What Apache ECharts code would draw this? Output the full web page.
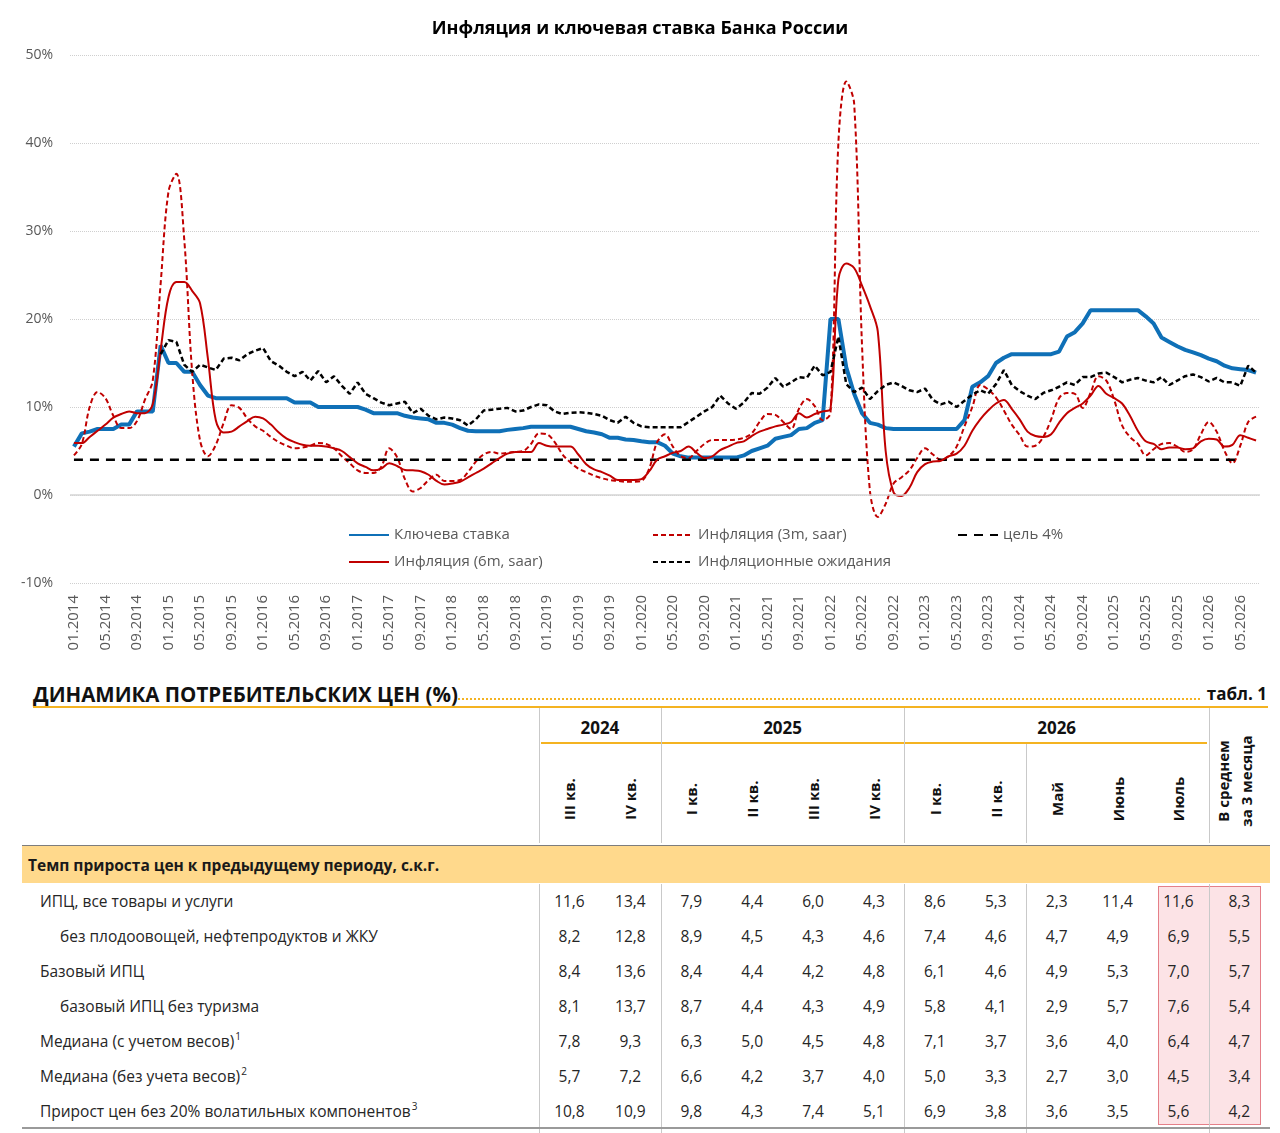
<!DOCTYPE html>
<html lang="ru">
<head>
<meta charset="utf-8">
<title>Инфляция и ключевая ставка Банка России</title>
<script src="https://cdn.jsdelivr.net/npm/echarts@6.0.0/dist/echarts.min.js"></script>
<style>
html, body { margin: 0; padding: 0; background: #fff; }
body { width: 1280px; height: 1133px; position: relative; overflow: hidden; font-family: 'Open Sans', 'Noto Sans', sans-serif; }
#table { position: absolute; left: 0; top: 0; width: 1280px; height: 1133px; }
#chart { position: absolute; left: 0; top: 0; width: 1280px; height: 665px; }
.abs { position: absolute; white-space: nowrap; }
</style>
</head>
<body>
<div id="table"></div>
<div id="chart"></div>
<script>
// --- chart data, monthly from 01.2014 ---
var keyRate = [
  5.5, 7.0, 7.2, 7.5, 7.5, 7.5, 8.0, 8.0, 9.5, 9.5,
  9.5, 17, 15, 15, 14, 14, 12.5, 11.3, 11, 11,
  11, 11, 11, 11, 11, 11, 11, 11, 10.5, 10.5,
  10.5, 10, 10, 10, 10, 10, 10, 9.7, 9.3, 9.3,
  9.3, 9.3, 9.0, 8.8, 8.7, 8.6, 8.2, 8.2, 8.0, 7.6,
  7.3, 7.25, 7.25, 7.25, 7.25, 7.4, 7.5, 7.6, 7.75, 7.75,
  7.75, 7.75, 7.75, 7.75, 7.5, 7.25, 7.1, 6.9, 6.5, 6.5,
  6.3, 6.25, 6.1, 6.0, 6.0, 5.6, 4.7, 4.4, 4.25, 4.25,
  4.25, 4.25, 4.25, 4.25, 4.25, 4.5, 5.0, 5.3, 5.6, 6.4,
  6.6, 6.8, 7.5, 7.6, 8.2, 8.5, 20, 20, 14.5, 11.5,
  9.3, 8.2, 8.0, 7.6, 7.5, 7.5, 7.5, 7.5, 7.5, 7.5,
  7.5, 7.5, 7.5, 8.5, 12.3, 12.8, 13.5, 15, 15.6, 16,
  16, 16, 16, 16, 16, 16.3, 18, 18.5, 19.5, 21,
  21, 21, 21, 21, 21, 21, 20.3, 19.5, 17.9, 17.4,
  16.9, 16.5, 16.2, 15.9, 15.5, 15.2, 14.7, 14.4, 14.3, 14.2,
  13.9
];
var infl3m = [
  4.5, 5.8, 10.0, 11.7, 11.0, 9.0, 7.6, 7.6, 8.4, 10.8,
  13.0, 24, 34.5, 36.5, 29, 14, 6.2, 4.4, 5.7, 8.2,
  10.2, 9.9, 8.7, 7.8, 7.3, 6.6, 6.0, 5.6, 5.3, 5.4,
  5.6, 5.9, 5.8, 5.3, 4.4, 3.6, 2.8, 2.5, 2.5, 3.2,
  5.3, 4.3, 1.8, 0.4, 0.8, 1.7, 2.3, 1.6, 1.6, 1.7,
  2.6, 3.8, 4.6, 4.9, 4.7, 4.8, 4.9, 5.0, 5.8, 7.0,
  6.9, 6.0, 4.6, 3.7, 3.0, 2.6, 2.2, 1.9, 1.7, 1.6,
  1.5, 1.5, 1.6, 3.0, 6.0, 6.9, 5.5, 4.4, 4.2, 5.0,
  5.8, 6.25, 6.25, 6.25, 6.3, 6.5, 7.0, 8.3, 9.2, 9.1,
  8.3, 7.5, 9.8, 10.9, 10.1, 8.5, 9.3, 40, 47, 44.5,
  17, 0.5, -2.5, -1.0, 1.3, 2.0, 2.8, 4.2, 5.3, 4.6,
  4.0, 4.4, 5.5, 7.8, 10.0, 12.5, 12.0, 11.1, 9.6, 8.0,
  6.8, 5.5, 5.6, 6.6, 8.6, 11.0, 11.6, 11.5, 9.9, 11.6,
  13.5, 13.0, 10.8, 7.9, 6.6, 5.8, 4.5, 5.2, 5.8, 5.9,
  5.5, 4.9, 5.2, 6.9, 8.3, 7.2, 5.0, 3.6, 5.6, 8.3,
  8.9
];
var infl6m = [
  5.9, 5.9, 6.6, 7.3, 8.0, 8.8, 9.2, 9.5, 9.3, 9.3,
  10.3, 16.5, 22.5, 24.2, 24.2, 23.2, 21.8, 15.5, 8.5, 7.1,
  7.2, 7.8, 8.4, 8.9, 8.7, 8.0, 7.1, 6.4, 6.0, 5.7,
  5.6, 5.6, 5.5, 5.3, 5.0, 4.3, 3.6, 3.2, 2.8, 3.0,
  3.6, 3.3, 2.85, 2.8, 2.7, 2.3, 1.6, 1.2, 1.3, 1.5,
  2.0, 2.5, 3.0, 3.6, 4.2, 4.7, 4.9, 4.9, 4.9, 5.9,
  5.6, 5.5, 5.5, 5.5, 4.6, 3.5, 2.9, 2.6, 2.2, 1.7,
  1.7, 1.7, 1.8, 2.7, 4.0, 4.4, 4.8, 5.0, 5.5, 4.8,
  4.2, 4.4, 5.1, 5.5, 5.9, 6.1, 6.7, 7.2, 7.5, 7.8,
  8.0, 8.3, 9.3, 8.8, 9.2, 9.5, 9.8, 24.5, 26.3, 25.8,
  23.8, 21.5, 18.6, 5.0, 0.3, -0.1, 0.8, 2.6, 3.5, 3.8,
  3.9, 4.4, 4.7, 5.6, 7.3, 8.6, 9.6, 10.4, 10.8, 9.8,
  8.6, 7.2, 6.7, 6.6, 6.9, 8.2, 9.3, 9.9, 10.4, 11.3,
  12.4, 11.5, 11.0, 10.4, 9.0, 7.3, 6.1, 5.8, 5.2, 5.4,
  5.4, 5.2, 5.3, 6.1, 6.4, 6.3, 5.5, 5.7, 6.8, 6.5,
  6.2
];
var expectations = [
  null, null, null, null, null, null, null, null, null, null,
  null, 16.0, 17.6, 17.4, 14.8, 14.0, 14.8, 14.5, 14.2, 15.5,
  15.6, 15.3, 16.0, 16.4, 16.7, 15.2, 14.7, 14.0, 13.5, 14.0,
  13.0, 14.1, 12.8, 13.5, 12.4, 11.5, 12.8, 11.5, 11.0, 10.5,
  10.2, 10.4, 10.6, 9.3, 9.8, 9.0, 8.6, 8.8, 8.7, 8.5,
  7.9, 8.6, 9.6, 9.7, 9.8, 9.9, 9.5, 9.6, 10.0, 10.3,
  10.2, 9.5, 9.2, 9.35, 9.4, 9.35, 9.2, 9.0, 8.5, 8.2,
  8.9, 8.2, 7.8, 7.7, 7.7, 7.7, 7.7, 7.7, 8.3, 8.9,
  9.5, 10.0, 11.3, 10.4, 9.8, 10.5, 11.6, 11.5, 12.2, 13.3,
  12.3, 12.8, 13.4, 13.3, 14.7, 13.6, 14.0, 18.0, 12.6, 11.7,
  12.2, 10.9, 11.8, 12.5, 12.8, 12.4, 11.9, 11.7, 12.1, 10.8,
  10.3, 10.6, 10.0, 10.7, 11.4, 11.9, 11.5, 12.6, 14.2, 12.5,
  11.8, 11.3, 10.9, 11.6, 11.9, 12.3, 12.8, 12.5, 13.4, 13.4,
  13.8, 13.9, 13.4, 12.8, 13.1, 13.3, 13.0, 12.8, 13.4, 12.5,
  13.0, 13.5, 13.7, 13.4, 12.9, 13.3, 12.8, 12.8, 12.4, 14.7,
  13.9
];
var target = [['01.2014', 4], ['05.2026', 4]];
var yTicks = { min: -10, max: 50, step: 10 };

// month labels 01.2014 ... 07.2026
var months = [];
for (var i = 0; i < keyRate.length; i++) {
  var m = i % 12 + 1;
  months.push((m < 10 ? '0' : '') + m + '.' + (2014 + Math.floor(i / 12)));
}

// --- table data ---
var tableTitle = 'ДИНАМИКА ПОТРЕБИТЕЛЬСКИХ ЦЕН (%)';
var tableTag = 'табл. 1';
var yearGroups = [['2024', 2], ['2025', 4], ['2026', 5]];
var periodLabels = ['III кв.', 'IV кв.', 'I кв.', 'II кв.', 'III кв.', 'IV кв.', 'I кв.', 'II кв.', 'Май', 'Июнь', 'Июль'];
var avgLabel = ['В среднем', 'за 3 месяца'];
var sectionLabel = 'Темп прироста цен к предыдущему периоду, с.к.г.';
var rowLabels = [
  'ИПЦ, все товары и услуги',
  'без плодоовощей, нефтепродуктов и ЖКУ',
  'Базовый ИПЦ',
  'базовый ИПЦ без туризма',
  'Медиана (с учетом весов)',
  'Медиана (без учета весов)',
  'Прирост цен без 20% волатильных компонентов'
];
var rowNotes = ['', '', '', '', '1', '2', '3'];
var rowIndent = [0, 1, 0, 1, 0, 0, 0];
var rowValues = [
  [11.6, 13.4, 7.9, 4.4, 6.0, 4.3, 8.6, 5.3, 2.3, 11.4, 11.6, 8.3],
  [8.2, 12.8, 8.9, 4.5, 4.3, 4.6, 7.4, 4.6, 4.7, 4.9, 6.9, 5.5],
  [8.4, 13.6, 8.4, 4.4, 4.2, 4.8, 6.1, 4.6, 4.9, 5.3, 7.0, 5.7],
  [8.1, 13.7, 8.7, 4.4, 4.3, 4.9, 5.8, 4.1, 2.9, 5.7, 7.6, 5.4],
  [7.8, 9.3, 6.3, 5.0, 4.5, 4.8, 7.1, 3.7, 3.6, 4.0, 6.4, 4.7],
  [5.7, 7.2, 6.6, 4.2, 3.7, 4.0, 5.0, 3.3, 2.7, 3.0, 4.5, 3.4],
  [10.8, 10.9, 9.8, 4.3, 7.4, 5.1, 6.9, 3.8, 3.6, 3.5, 5.6, 4.2]
];

// --- chart ---
var labelFont = "'Open Sans', 'Noto Sans', sans-serif";
var legendText = { fontSize: 15, color: '#595959', fontFamily: labelFont, lineHeight: 16 };
function legendCol(left, names) {
  return {
    left: left, top: 527, padding: 0, orient: 'vertical',
    itemWidth: 40, itemHeight: 14, itemGap: 11,
    itemStyle: { opacity: 0 },
    data: names, textStyle: legendText
  };
}
var myChart = echarts.init(document.getElementById('chart'));
var option = {
  animation: false,
  title: {
    text: 'Инфляция и ключевая ставка Банка России',
    left: 'center',
    top: 20,
    padding: 0,
    textStyle: { fontSize: 18, fontWeight: 'bold', color: '#000', fontFamily: labelFont }
  },
  grid: { left: 70, right: 20, top: 55, bottom: 82 },
  legend: [
    legendCol(348, ['Ключева ставка', 'Инфляция (6m, saar)']),
    legendCol(652, ['Инфляция (3m, saar)', 'Инфляционные ожидания']),
    legendCol(957, ['цель 4%'])
  ],
  xAxis: {
    type: 'category',
    data: months,
    boundaryGap: true,
    axisLine: { show: false },
    axisTick: { show: false },
    splitLine: { show: false },
    axisLabel: { rotate: 90, interval: 3, margin: 12, color: '#595959', fontSize: 15, fontFamily: labelFont }
  },
  yAxis: {
    type: 'value',
    min: yTicks.min,
    max: yTicks.max,
    interval: yTicks.step,
    axisLine: { show: false },
    axisTick: { show: false },
    axisLabel: { formatter: '{value}%', margin: 17, color: '#595959', fontSize: 14, fontFamily: labelFont },
    splitLine: { show: true, lineStyle: { type: 'dotted', color: '#cfcfcf', width: 1 } }
  },
  series: [
    {
      name: 'Ключева ставка', type: 'line', data: keyRate, symbol: 'none',
      color: '#0F70B7', lineStyle: { color: '#0F70B7', width: 4 }, z: 2,
      markLine: {
        silent: true, symbol: 'none', label: { show: false },
        lineStyle: { color: '#d4d4d4', type: 'solid', width: 1.5 },
        data: [{ yAxis: 0 }]
      }
    },
    {
      name: 'Инфляция (3m, saar)', type: 'line', data: infl3m, symbol: 'none', smooth: 0.35,
      color: '#C00000', lineStyle: { color: '#C00000', width: 2, type: [5, 3] }, z: 3
    },
    {
      name: 'цель 4%', type: 'line', data: target, symbol: 'none',
      color: '#000', lineStyle: { color: '#000', width: 2.5, type: [9, 7] }, z: 3
    },
    {
      name: 'Инфляция (6m, saar)', type: 'line', data: infl6m, symbol: 'none', smooth: 0.35,
      color: '#C00000', lineStyle: { color: '#C00000', width: 2 }, z: 4
    },
    {
      name: 'Инфляционные ожидания', type: 'line', data: expectations, symbol: 'none',
      color: '#000', lineStyle: { color: '#000', width: 2.5, type: [5, 3] }, z: 4
    }
  ]
};
myChart.setOption(option);

// --- table ---
var tbl = document.getElementById('table');
var colStart = 539, colW = 60.9;
function colX(k) { return colStart + colW * k; }
function box(css, text) {
  var d = document.createElement('div');
  d.className = 'abs';
  d.style.cssText = css;
  if (text != null) d.textContent = text;
  tbl.appendChild(d);
  return d;
}
function centerText(cx, cy, text, css, rot) {
  return box('left:' + cx + 'px;top:' + cy + 'px;transform:translate(-50%,-50%)' + (rot ? ' rotate(-90deg)' : '') + ';' + (css || ''), text);
}
function fmt(v) { return v.toFixed(1).replace('.', ','); }

var yellow = '#F4B321', sep = '#c9c9c9', ink = '#262626';

box('left:33px;top:680px;font-size:20.5px;font-weight:700;color:#111;line-height:28px;', tableTitle);
box('left:458px;top:698px;width:742px;height:0;border-bottom:2px dotted ' + yellow + ';');
box('right:13px;top:682px;font-size:17px;font-weight:700;color:#111;line-height:24px;', tableTag);
box('left:33px;top:706px;width:1235px;height:2px;background:' + yellow + ';');

// year header row
var k0 = 0;
yearGroups.forEach(function (g) {
  centerText((colX(k0) + colX(k0 + g[1])) / 2, 727, g[0], 'font-size:17px;font-weight:700;color:#111;');
  k0 += g[1];
});
box('left:' + (colX(0) + 2) + 'px;top:742px;width:' + (colX(11) - colX(0) - 4) + 'px;height:2px;background:' + yellow + ';');

// header separators
[0, 2, 6, 11].forEach(function (k) {
  box('left:' + colX(k) + 'px;top:708px;width:1px;height:135px;background:' + sep + ';');
});
box('left:' + colX(8) + 'px;top:744px;width:1px;height:99px;background:' + sep + ';');

// rotated period headers
periodLabels.forEach(function (t, k) {
  centerText(colX(k) + colW / 2, 799, t, 'font-size:15px;font-weight:700;color:#111;', true);
});
var avg = centerText(colX(11) + colW / 2 - 4, 781, null, 'font-size:15px;font-weight:700;color:#111;line-height:23px;text-align:center;', true);
avg.innerHTML = avgLabel[0] + '<br>' + avgLabel[1];

// section band
box('left:22px;top:845px;width:1248px;height:37px;background:#FFD98C;border-top:1.5px solid #7d7d7d;');
box('left:28px;top:847px;line-height:37px;font-size:15.5px;font-weight:700;color:#1a1a1a;', sectionLabel);

// highlighted last two columns
var hl = 'top:886px;height:239px;background:#FCE3E6;border:1.5px solid #E57F88;box-sizing:border-box;';
box('left:' + (colX(10) + 10) + 'px;width:' + (colX(11) - colX(10) - 9) + 'px;' + hl);
box('left:' + colX(11) + 'px;width:' + (colW - 9) + 'px;' + hl);

// body separators
[0, 2, 6, 8, 11].forEach(function (k) {
  box('left:' + colX(k) + 'px;top:884px;width:1px;height:249px;background:' + sep + ';');
});

// rows
rowLabels.forEach(function (t, r) {
  var cy = 901 + 35 * r;
  var lab = box('left:' + (rowIndent[r] ? 60 : 40) + 'px;top:' + (cy - 17) + 'px;line-height:34px;font-size:15.5px;color:' + ink + ';', t);
  if (rowNotes[r]) {
    var s = document.createElement('span');
    s.textContent = rowNotes[r];
    s.style.cssText = 'font-size:10px;position:relative;top:-7px;margin-left:1px;';
    lab.appendChild(s);
  }
  rowValues[r].forEach(function (v, k) {
    centerText(colX(k) + colW / 2, cy, fmt(v), 'font-size:15.5px;color:' + ink + ';');
  });
});
box('left:22px;top:1127px;width:1248px;height:2px;background:#9a9a9a;');
</script>
</body>
</html>
